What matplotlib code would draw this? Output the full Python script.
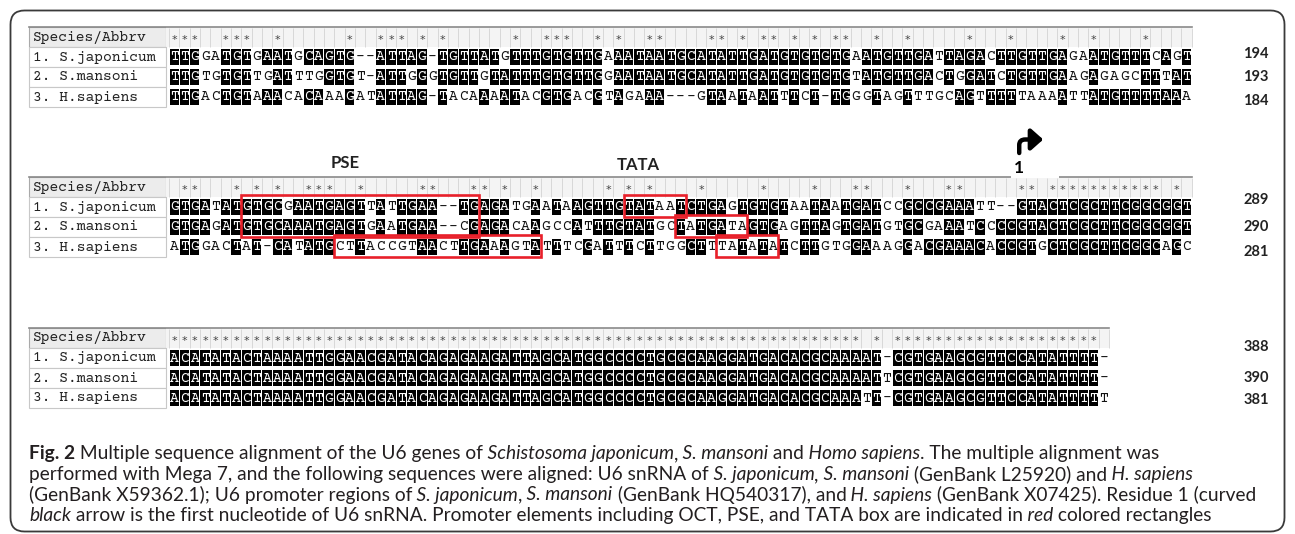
import numpy as np
import matplotlib
matplotlib.use("Agg")
import matplotlib.pyplot as plt
from matplotlib.patches import Rectangle, FancyBboxPatch, FancyArrowPatch
from matplotlib.path import Path

# ---- alignment data ---------------------------------------------------------
HEADER_LABEL = "Species/Abbrv"
ROW_LABELS = ["1. S.japonicum", "2. S.mansoni", "3. H.sapiens"]

BLOCK1 = [
    "TTGGATGTGAATGCAGTG--ATTAG-TGTTATGTTTGTGTTGAAATAATGCATATTGATGTGTGTGAATGTTGATTAGACTTGTTGAGAATGTTTCAGT",
    "TTGTGTGTTGATTTGGTGT-ATTGGGTGTTGTATTTGTGTTGGAATAATGCATATTGATGTGTGTGTATGTTGACTGGATCTGTTGAAGAGAGCTTTAT",
    "TTGACTGTAAACACAAAGATATTAG-TACAAAATACGTGACGTAGAAA---GTAATAATTTCT-TGGGTAGTTTGCAGTTTTTAAAATTATGTTTTAAA",
]
BLOCK2 = [
    "GTGATATGTGCGAATGAGTTATTGAA--TGAGATGAATAAGTTGTATAATCTGAGTGTGTAATAATGATCCGCCGAAATT--GTACTCGCTTCGGCGGT",
    "GTGAGATGTGCAAATGAGTGAATGAA--CGAGACAAGCCATTTGTATGCTATGATAGTGAGTTAGTGATGTGCGAAATCCCCGTACTCGCTTCGGCGGT",
    "ATGGACTAT-CATATGCTTACCGTAACTTGAAAGTATTTCGATTTCTTGGCTTTATATATCTTGTGGAAAGGACGAAACACCGTGCTCGCTTCGGCAGC",
]
BLOCK3 = [
    "ACATATACTAAAATTGGAACGATACAGAGAAGATTAGCATGGCCCCTGCGCAAGGATGACACGCAAAAT-CGTGAAGCGTTCCATATTTT-",
    "ACATATACTAAAATTGGAACGATACAGAGAAGATTAGCATGGCCCCTGCGCAAGGATGACACGCAAAATTCGTGAAGCGTTCCATATTTT-",
    "ACATATACTAAAATTGGAACGATACAGAGAAGATTAGCATGGCCCCTGCGCAAGGATGACACGCAAATT-CGTGAAGCGTTCCATATTTTT",
]
BLOCKS = [BLOCK1, BLOCK2, BLOCK3]
END_NUMBERS = [["194", "193", "184"], ["289", "290", "281"], ["388", "390", "381"]]

# promoter boxes in block 2: (first row, last row, first col, last col), 1-based
PROMOTER_BOXES = [(1, 2, 8, 30), (3, 3, 17, 36), (1, 1, 45, 50), (2, 2, 50, 56), (3, 3, 54, 59)]
TSS_COL = 83  # residue 1 of U6 snRNA in block 2

CAPTION = [
    [("Fig. 2", "b"), (" Multiple sequence alignment of the U6 genes of", "n"),
     (" Schistosoma japonicum", "i"), (",", "n"), (" S. mansoni", "i"), (" and", "n"),
     (" Homo sapiens", "i"), (". The multiple alignment was", "n")],
    [("performed with Mega 7, and the following sequences were aligned: U6 snRNA of", "n"),
     (" S. japonicum", "i"), (",", "n"), (" S. mansoni", "i"), (" (GenBank L25920) and", "n"),
     (" H. sapiens", "i")],
    [("(GenBank X59362.1); U6 promoter regions of", "n"), (" S. japonicum", "i"), (",", "n"),
     (" S. mansoni", "i"), (" (GenBank HQ540317), and", "n"), (" H. sapiens", "i"),
     (" (GenBank X07425). Residue 1 (curved", "n")],
    [("black", "i"),
     (" arrow is the first nucleotide of U6 snRNA. Promoter elements including OCT, PSE, and TATA box are indicated in", "n"),
     (" red", "i"), (" colored rectangles", "n")],
]

# ---- layout (pixels) --------------------------------------------------------
W, H = 1295, 534
LAB_X0, LAB_X1 = 29, 166
SEQ_X0 = 169
CW = 10.33
RH = 20
BLOCK_TOPS = [27, 177, 328]
NUM_X = 1256
NUM_Y = [[54, 77, 101], [200, 227, 252], [347, 378, 400]]
CAP_X = 29
CAP_BASE = [459, 480, 500.5, 521]
CAP_END = [1113, 1279, 1277, 1170]  # right end of each caption line

MONO = ["Courier Prime", "Liberation Mono"]
SANS = ["Lato", "DejaVu Sans"]


def conserved(block):
    return [len(set(c)) == 1 and c[0] != "-" for c in zip(*block)]


def is_shaded(block, r, j):
    ch = block[r][j]
    col = [s[j] for s in block]
    return ch != "-" and col.count(ch) >= 2


def draw_block(ax, block, top, numbers, num_y):
    n = len(block[0])
    x1 = SEQ_X0 + n * CW

    # header row
    ax.add_patch(Rectangle((LAB_X0, top), LAB_X1 - LAB_X0, RH, fc="#ececec", ec="#a9a9a9", lw=0.8))
    ax.text(LAB_X0 + 4, top + RH / 2, HEADER_LABEL, family=MONO, size=10.5, va="center", color="#222222")
    ax.add_patch(Rectangle((LAB_X1, top), x1 - LAB_X1, RH, fc="#f4f4f4", ec="none"))
    ax.plot([LAB_X0, x1], [top, top], color="#8a8a8a", lw=1.2)
    xs = SEQ_X0 + np.arange(n + 1) * CW
    ax.vlines(xs, top + 1, top + RH, color="#d3d3d3", lw=0.6)
    for j, star in enumerate(conserved(block)):
        if star:
            ax.text(SEQ_X0 + (j + 0.5) * CW, top + RH / 2 + 3, "*", family="DejaVu Sans",
                    size=8, ha="center", va="center", color="#444444")

    # sequence rows
    for r, seq in enumerate(block):
        y0 = top + RH * (r + 1)
        ax.add_patch(Rectangle((LAB_X0, y0), LAB_X1 - LAB_X0, RH, fc="white", ec="#c8c8c8", lw=0.8))
        ax.text(LAB_X0 + 4, y0 + RH / 2, ROW_LABELS[r], family=MONO, size=10.5, va="center",
                color="#222222")
        for j, ch in enumerate(seq):
            shaded = is_shaded(block, r, j)
            if shaded:
                ax.add_patch(Rectangle((SEQ_X0 + j * CW + 0.5, y0 + 2), CW - 1, RH - 4,
                                       fc="black", ec="none"))
            ax.text(SEQ_X0 + (j + 0.5) * CW, y0 + RH / 2, ch, family=MONO, size=10.5,
                    ha="center", va="center", color="white" if shaded else "#111111")

    for txt, y in zip(numbers, num_y):
        ax.text(NUM_X, y, txt, family=SANS, size=10.5, weight="bold", ha="center", va="center",
                color="#222222")


def col_x(j):
    return SEQ_X0 + (j - 1) * CW


def draw_caption_line(ax, renderer, x, y, parts, size):
    texts = []
    for seg, style in parts:
        t = ax.text(x, y, seg, family=SANS, size=size, va="baseline", ha="left", color="#231f20",
                    weight="bold" if style == "b" else "normal",
                    style="italic" if style == "i" else "normal")
        x += t.get_window_extent(renderer).width
        texts.append(t)
    return x, texts


fig = plt.figure(figsize=(W / 100, H / 100), dpi=100)
ax = fig.add_axes([0, 0, 1, 1])
ax.set_xlim(0, W)
ax.set_ylim(H, 0)
ax.axis("off")

ax.add_patch(FancyBboxPatch((10.5, 10.5), W - 21, H - 13, boxstyle="round,pad=0,rounding_size=14",
                            fc="none", ec="#3a3a3a", lw=1.3))

for block, top, nums, ny in zip(BLOCKS, BLOCK_TOPS, END_NUMBERS, NUM_Y):
    draw_block(ax, block, top, nums, ny)

# promoter rectangles (block 2)
top2 = BLOCK_TOPS[1]
for r0, r1, c0, c1 in PROMOTER_BOXES:
    y0 = top2 + RH * r0 - 2
    y1 = top2 + RH * (r1 + 1)
    ax.add_patch(Rectangle((col_x(c0), y0), col_x(c1 + 1) - col_x(c0), y1 - y0, fc="none",
                           ec="#e8202a", lw=1.9, zorder=5))

ax.text(345, 163, "PSE", family=SANS, size=12, weight="bold", ha="center", va="center", color="#222222")
ax.text(638, 165, "TATA", family=SANS, size=12, weight="bold", ha="center", va="center", color="#222222")

# transcription start arrow
xa = col_x(TSS_COL) + CW / 2 - 2
ax.add_patch(Rectangle((xa - 8, 130), 48, top2 - 129.4, fc="white", ec="none", zorder=4))
verts = [(xa, 153), (xa, 145), (xa, 139.5), (xa + 6, 139.5), (xa + 24, 139.5)]
codes = [Path.MOVETO, Path.LINETO, Path.CURVE3, Path.CURVE3, Path.LINETO]
ax.add_patch(FancyArrowPatch(path=Path(verts, codes), arrowstyle="-|>,head_length=0.45,head_width=0.4",
                             mutation_scale=16, lw=3.2, color="black", zorder=6))
ax.text(xa, 168, "1", family=SANS, size=12.5, weight="bold", ha="center", va="center", color="black",
        zorder=6)

# caption: one font size, least-squares fitted to the line ends
renderer = fig.canvas.get_renderer()
widths = []
for parts in CAPTION:
    end, probe = draw_caption_line(ax, renderer, CAP_X, 0, parts, 10)
    widths.append(end - CAP_X)
    for t in probe:
        t.remove()
widths = np.array(widths)
targets = np.array(CAP_END) - CAP_X
cap_size = 10 * (widths @ targets) / (widths @ widths)
for parts, yb in zip(CAPTION, CAP_BASE):
    draw_caption_line(ax, renderer, CAP_X, yb, parts, cap_size)

fig.savefig("out.png", dpi=100)
